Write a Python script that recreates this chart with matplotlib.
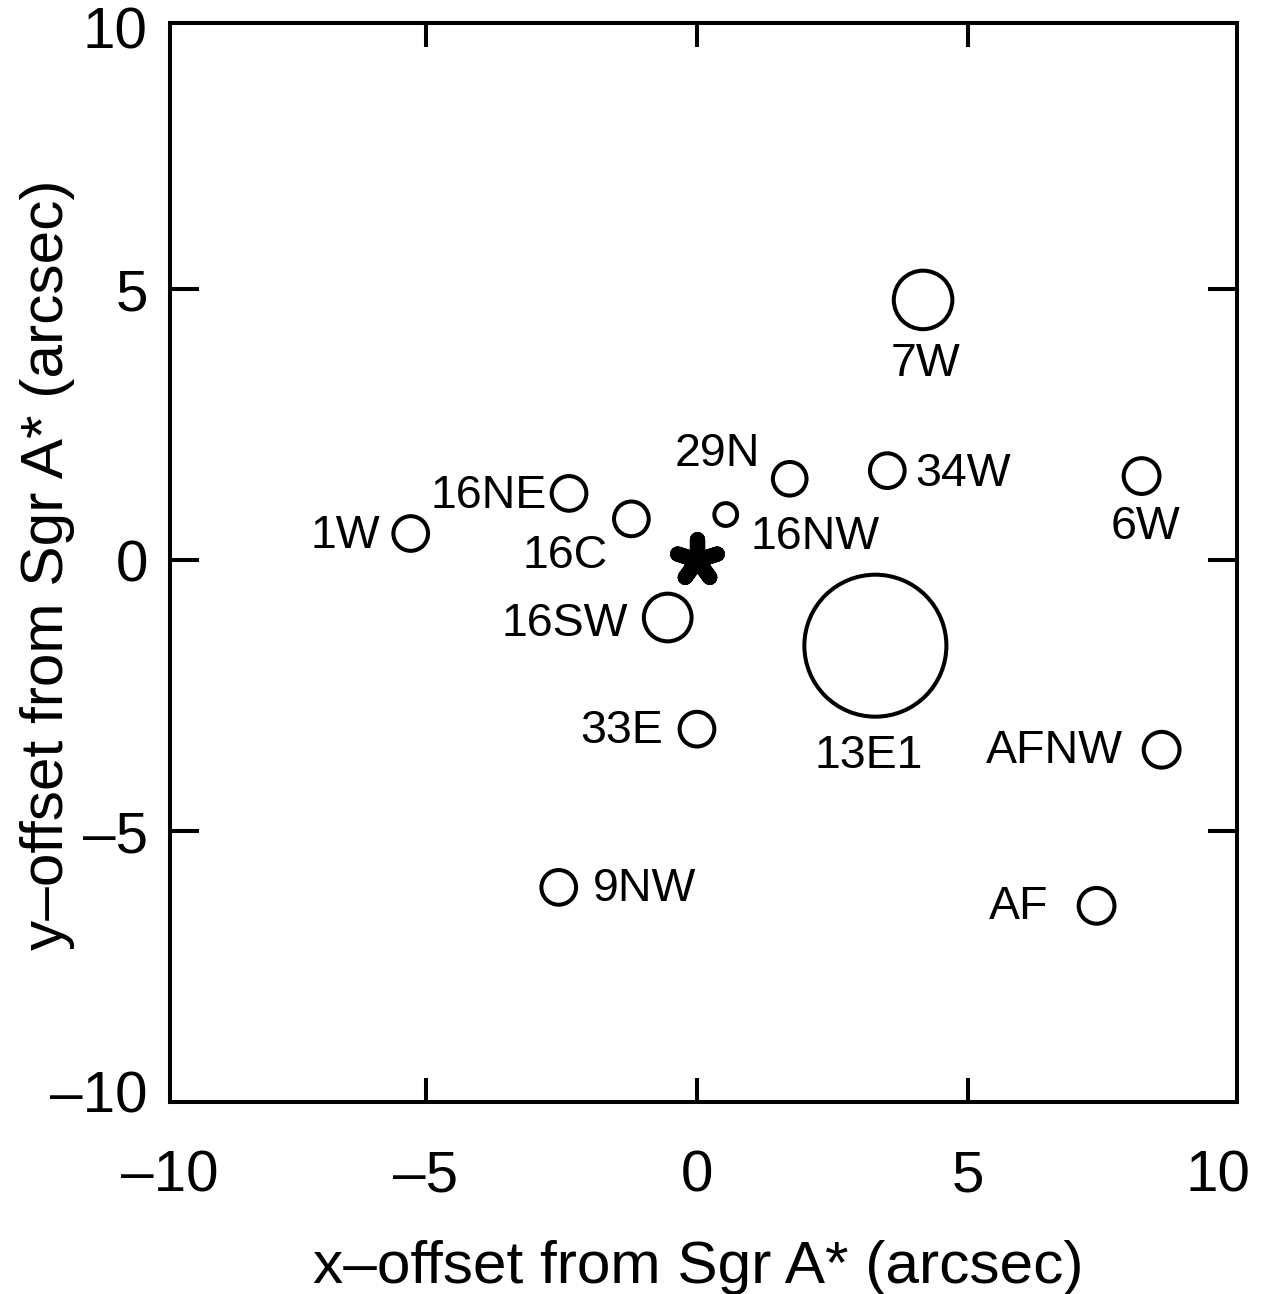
import matplotlib
matplotlib.use("Agg")
import matplotlib.pyplot as plt
from matplotlib.patches import Circle
from matplotlib.markers import MarkerStyle

plt.rcParams['font.family'] = ['Liberation Sans', 'DejaVu Sans']

# ---- data ----
names = ['7W', '29N', '34W', '16NW', '6W', 'AFNW', 'AF', '16SW', '13E1',
         '33E', '9NW', '1W', '16NE', '16C']
src_x = [4.17, 1.71, 3.51, 0.53, 8.20, 8.57, 7.37, -0.54, 3.29,
         0.00, -2.55, -5.28, -2.36, -1.21]
src_y = [4.80, 1.50, 1.65, 0.84, 1.55, -3.50, -6.38, -1.06, -1.58,
         -3.12, -6.04, 0.49, 1.23, 0.76]
src_r = [0.54, 0.31, 0.32, 0.21, 0.33, 0.33, 0.33, 0.44, 1.31,
         0.32, 0.32, 0.32, 0.32, 0.32]
# label anchor positions (baseline) and horizontal alignment
lab_x = [4.21, 1.16, 4.02, 0.98, 8.27, 7.86, 6.48, -1.27, 3.16,
         -0.63, -1.92, -5.85, -2.77, -1.64]
lab_y = [3.39, 1.73, 1.37, 0.20, 0.39, -3.75, -6.62, -1.40, -3.84,
         -3.38, -6.29, 0.22, 0.96, -0.15]
lab_ha = ['center', 'right', 'left', 'left', 'center', 'right', 'right', 'right', 'center',
          'right', 'left', 'right', 'right', 'right']

sgra_x = [0.0]
sgra_y = [0.0]

xlim = (-9.72, 9.96)
ylim = (-10.0, 9.91)
xtick_vals = [-5, 0, 5]
xtick_labels = ['\u20135', '0', '5']
xend_vals = [-9.72, 9.60]
xend_labels = ['\u201310', '10']
ytick_vals = [-5, 0, 5]
ytick_labels = ['\u20135', '0', '5']
yend_vals = [-9.80, 9.83]
yend_labels = ['\u201310', '10']

W, H = 1263, 1294
fig = plt.figure(figsize=(W / 100, H / 100), dpi=100)
ax = fig.add_axes([170 / W, 1 - 1102 / H, (1237 - 170) / W, (1102 - 23) / H])
ax.set_xlim(*xlim)
ax.set_ylim(*ylim)

lw = 2.9
for x, y, r in zip(src_x, src_y, src_r):
    ax.add_patch(Circle((x, y), r, fill=False, edgecolor='black', linewidth=lw))

for n, x, y, ha in zip(names, lab_x, lab_y, lab_ha):
    ax.text(x, y, n, ha=ha, va='baseline', fontsize=33.5)

star = MarkerStyle((5, 2, 0), capstyle='round', joinstyle='round')
ax.plot(sgra_x, sgra_y, linestyle='none', marker=star, markersize=30,
        markeredgewidth=11, color='black')

for s in ax.spines.values():
    s.set_linewidth(lw)

ax.set_xticks(xtick_vals, xtick_labels)
ax.set_yticks(ytick_vals, ytick_labels)
ax.set_xticks(xend_vals, xend_labels, minor=True)
ax.set_yticks(yend_vals, yend_labels, minor=True)
ax.tick_params(which='both', direction='in', top=True, right=True, labelsize=42, width=lw)
ax.tick_params(axis='x', which='major', length=17, pad=34)
ax.tick_params(axis='y', which='major', length=21, pad=16)
ax.tick_params(axis='x', which='minor', length=0, pad=34)
ax.tick_params(axis='y', which='minor', length=0, pad=16)

fig.text(698 / W, 1 - 1283 / H, 'x\u2013offset from Sgr A* (arcsec)', ha='center',
         va='baseline', fontsize=43.5)
fig.text(48 / W, 1 - 565 / H, 'y\u2013offset from Sgr A* (arcsec)', ha='center',
         va='center', rotation=90, fontsize=43.5)

fig.savefig('out.png', dpi=100)
